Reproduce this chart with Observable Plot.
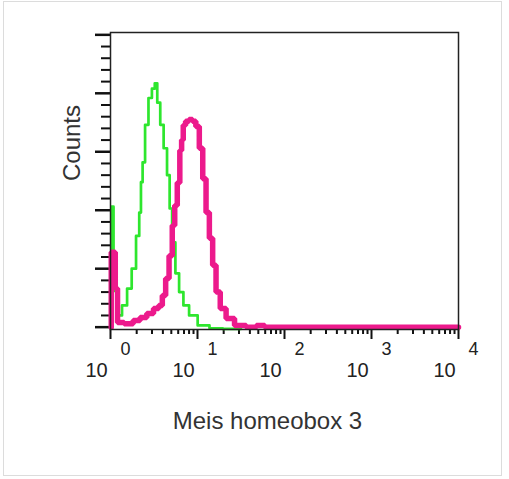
<!DOCTYPE html>
<html>
<head>
<meta charset="utf-8">
<script src="https://cdn.jsdelivr.net/npm/d3@7"></script>
<script src="https://cdn.jsdelivr.net/npm/@observablehq/plot@0.6"></script>
<style>
  html, body { margin: 0; padding: 0; background: #fff; }
  #wrap { position: relative; width: 509px; height: 479px; }
  #border { position: absolute; left: 3px; top: 1px; width: 499px; height: 475px; border: 1px solid #dcdcdc; box-sizing: border-box; pointer-events: none; }
  svg { font-family: "Liberation Sans", Arial, sans-serif; }
</style>
</head>
<body>
<div id="wrap"><div id="border"></div></div>
<script>
// Fluorescence intensity (log scale) and counts
const greenIntensity = [1.03, 1.03, 1.14, 1.27, 1.45, 1.66, 1.85, 2.09, 2.19, 2.29, 2.39, 2.61, 2.86, 3.13, 3.33, 3.57, 3.90, 4.27, 4.67, 4.90, 5.33, 5.82, 6.49, 7.31, 8.77, 11.5, 16.4, 23.3, 31.6];
const greenCounts    = [0, 103, 31, 10, 18.6, 33, 50, 78, 98, 124, 141, 173, 196, 204, 208.5, 192, 173, 153, 130, 101.5, 72.5, 46, 30, 18.6, 10, 1.5, -1, -1.5, -1.5];

const magentaIntensity = [1.02, 1.02, 1.10, 1.17, 1.24, 1.66, 2.00, 2.39, 2.86, 3.41, 3.77, 4.12, 4.50, 4.93, 5.33, 5.62, 6.10, 6.43, 6.71, 7.01, 7.60, 8.39, 9.16, 10.0, 11.0, 12.0, 13.1, 14.3, 15.6, 17.1, 19.5, 23.3, 30.5, 43.2, 52.0, 67.9, 10000];
const magentaCounts    = [0, 64, 64, 33, 4, 3, 5.7, 8.3, 11.7, 16, 18.6, 27, 41.7, 61, 87, 104, 123.5, 151, 160, 172.6, 176, 177.7, 176, 171.7, 153, 127, 98, 76, 53, 30, 16, 7.5, 1.5, 0, 1.5, 0, 0];

const xMajorTicks = [1, 10, 100, 1000, 10000];
const xExponents = ["0", "1", "2", "3", "4"];
const xMinorMultipliers = [2, 3, 4, 5, 6, 7, 8, 9];
const yMajorTicks = [0, 50, 100, 150, 200, 250];
const yMinorTicks = [10, 20, 30, 40, 60, 70, 80, 90, 110, 120, 130, 140, 160, 170, 180, 190, 210, 220, 230, 240];

const xMinorTicks = [1, 10, 100, 1000].flatMap(d => xMinorMultipliers.map(m => d * m));
const green = greenIntensity.map((x, i) => ({x, y: greenCounts[i]}));
const magenta = magentaIntensity.map((x, i) => ({x, y: magentaCounts[i]}));
const labels = xMajorTicks.map((x, i) => ({x, e: xExponents[i]}));

const chart = Plot.plot({
  width: 509,
  height: 479,
  marginLeft: 110,
  marginRight: 51,
  marginTop: 32,
  marginBottom: 150,
  style: {fontFamily: "Liberation Sans, Arial, sans-serif", color: "#222", background: "transparent"},
  x: {type: "log", domain: [1, 10000]},
  y: {domain: [-2, 252]},
  marks: [
    Plot.axisX(xMajorTicks, {tickSize: 10, tickFormat: () => "", label: null, strokeWidth: 2, stroke: "#111"}),
    Plot.axisX(xMinorTicks, {tickSize: 5, tickFormat: () => "", label: null, strokeWidth: 2, stroke: "#111"}),
    Plot.axisY(yMajorTicks, {tickSize: 15, tickFormat: () => "", label: null, strokeWidth: 2.5, stroke: "#111"}),
    Plot.axisY(yMinorTicks, {tickSize: 9, tickFormat: () => "", label: null, strokeWidth: 2, stroke: "#111"}),
    Plot.line(green, {x: "x", y: "y", curve: "step", stroke: "#2ee62e", strokeWidth: 2.7}),
    Plot.line(magenta, {x: "x", y: "y", curve: "step", stroke: "#ec1a8c", strokeWidth: 5.5, strokeLinejoin: "miter"}),
    Plot.frame({stroke: "#222", strokeWidth: 1.5}),
    Plot.text(labels, {x: "x", text: () => "10", frameAnchor: "bottom", dx: -14, dy: 47, fontSize: 20, fill: "#222"}),
    Plot.text(labels, {x: "x", text: "e", frameAnchor: "bottom", dx: 15, dy: 25, fontSize: 18, fill: "#222"}),
    Plot.text(["Counts"], {text: d => d, frameAnchor: "left", dx: -38, rotate: -90, fontSize: 24, fill: "#333"}),
    Plot.text(["Meis homeobox 3"], {text: d => d, frameAnchor: "bottom", dx: -17, dy: 99, fontSize: 24, fill: "#333"})
  ]
});
document.getElementById("wrap").appendChild(chart);
chart.style.position = "absolute";
chart.style.left = "0";
chart.style.top = "0";
</script>
</body>
</html>
